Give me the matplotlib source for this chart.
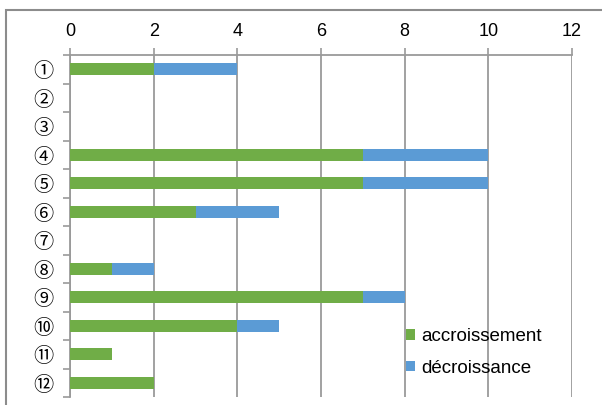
import matplotlib
matplotlib.use("Agg")
import matplotlib.pyplot as plt
from matplotlib.patches import Rectangle
from matplotlib.ticker import FixedLocator

categories = ["①", "②", "③", "④", "⑤", "⑥", "⑦", "⑧", "⑨", "⑩", "⑪", "⑫"]
accroissement = [2, 0, 0, 7, 7, 3, 0, 1, 7, 4, 1, 2]
decroissance = [2, 0, 0, 3, 3, 2, 0, 1, 1, 1, 0, 0]
x_ticks = [0, 2, 4, 6, 8, 10, 12]

green = "#70AD47"
blue = "#5B9BD5"
gray = "#9a9a9a"

plt.rcParams["font.family"] = ["Liberation Sans", "DejaVu Sans"]

W, H = 602, 405
fig = plt.figure(figsize=(W / 100, H / 100), dpi=100)

# chart frame
fig.patches.append(Rectangle((6 / W, -0.1), 1.2, 1 - 10 / H + 0.1,
                             transform=fig.transFigure, fill=False,
                             edgecolor="#8c8c8c", linewidth=1.5))

ax = fig.add_axes([70 / W, 8 / H, 502 / W, 342 / H])

y = list(range(len(categories)))
bar_h = 0.43
ax.barh(y, accroissement, height=bar_h, color=green, label="accroissement", zorder=3)
ax.barh(y, decroissance, height=bar_h, left=accroissement, color=blue,
        label="décroissance", zorder=3)

ax.set_xlim(0, 12)
ax.set_ylim(len(categories) - 0.5, -0.5)

ax.xaxis.tick_top()
ax.set_xticks(x_ticks)
ax.set_xticklabels([str(v) for v in x_ticks], fontsize=13)
ax.tick_params(axis="x", direction="out", length=5, width=1.2, color=gray, pad=6)
ax.grid(axis="x", color=gray, linewidth=1.3, zorder=1)

ax.set_yticks(y)
ax.set_yticklabels(categories, family=["Noto Sans CJK JP", "DejaVu Sans"], fontsize=14.5)
ax.yaxis.set_minor_locator(FixedLocator([i - 0.5 for i in range(len(categories) + 1)]))
ax.tick_params(axis="y", which="major", length=0, pad=12)
ax.tick_params(axis="y", which="minor", direction="out", length=5, width=1.2, color=gray)

for side in ("right", "bottom"):
    ax.spines[side].set_visible(False)
for side in ("left", "top"):
    ax.spines[side].set_color(gray)
    ax.spines[side].set_linewidth(1.3)

leg = ax.legend(loc="lower left", bbox_to_anchor=((398 - 70) / 502, 0.038),
                bbox_transform=ax.transAxes, frameon=False, fontsize=13.5,
                handlelength=0.5, handleheight=0.5, handletextpad=0.35,
                labelspacing=0.75, borderaxespad=0)
for t in leg.get_texts():
    t.set_color("black")

fig.savefig("out.png", dpi=100)
